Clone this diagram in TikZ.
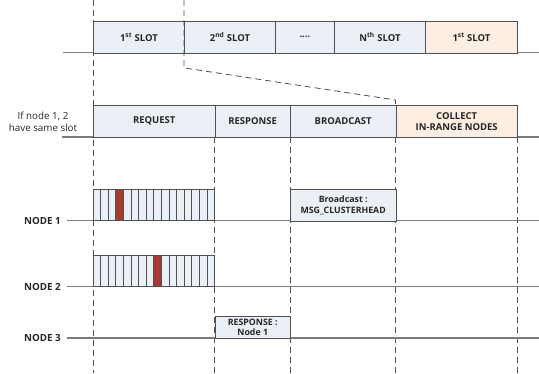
\documentclass[tikz,border=0pt]{standalone}
\usepackage{fontspec}
\setmainfont{Open Sans}
\usepackage{tikz}
\usetikzlibrary{positioning}
\usetikzlibrary{calc}

\definecolor{slotfill}{HTML}{EBF0F6}
\definecolor{collectfill}{HTML}{FDEEE3}
\definecolor{hitred}{HTML}{A63A32}
\definecolor{edgegray}{HTML}{505050}
\definecolor{linegray}{HTML}{7C7C7C}
\definecolor{inkgray}{HTML}{262626}

\tikzset{
  slot/.style={draw=edgegray, line width=0.9pt, fill=slotfill, inner sep=0pt,
    text=inkgray, align=center, font=\bfseries\fontsize{9.5}{11}\selectfont},
  stripe/.style={draw=edgegray, line width=0.8pt, fill=slotfill},
  guide/.style={draw=edgegray, line width=0.8pt, dash pattern=on 6pt off 4pt},
  timeline/.style={draw=linegray, line width=1.1pt},
  nodelbl/.style={inner sep=0pt, text=inkgray, font=\bfseries\fontsize{9.8}{11}\selectfont}
}

\begin{document}
\begin{tikzpicture}[x=1pt,y=-1pt]
  \useasboundingbox (0,0) rectangle (539,373);

  \def\fourdots{....};
  \pgfmathsetmacro{\w}{121.5/16};

 %dashed guides
  \draw[guide] (93,0) -- (93,373);
    \foreach \x in {214.5,290,395.5,517}{
        \draw[guide] (\x,137) -- (\x,373);
    }

 %frame of slots
  \draw[timeline] (63,52.5) -- (539,52.5);
    \foreach \x/\wid/\txt/\name/\col in {93/91/1\textsuperscript{st} SLOT/s1/slotfill,184/91/2\textsuperscript{nd} SLOT/s2/slotfill,275/59/\fourdots/sdots/slotfill,334/91/N\textsuperscript{th} SLOT/sn/slotfill,425/92/1\textsuperscript{st} SLOT/snext/collectfill}{
        \node[slot, fill=\col, minimum width=\wid pt, minimum height=32pt, anchor=north west] (\name) at (\x,20.5) {\txt};
    }

 %one slot in detail
  \node[align=center, inner sep=0pt, text=inkgray, font=\fontsize{9.8}{12}\selectfont] (cond) at (43,122) {If node 1, 2\\have same slot};
  \draw[timeline] (62,137) -- (539,137);
    \foreach \x/\wid/\txt/\name/\col in {93/121.5/REQUEST/req/slotfill,214.5/75.5/RESPONSE/resp/slotfill,290/105.5/BROADCAST/bcast/slotfill,395.5/121.5/COLLECT\\IN-RANGE NODES/collect/collectfill}{
        \node[slot, fill=\col, minimum width=\wid pt, minimum height=32.5pt, anchor=north west] (\name) at (\x,104.5) {\txt};
    }

  \draw[guide] (184,0) -- ($(s2.south west)+(0,14.5)$) -- ($(collect.north west)+(0,-4.5)$) -- (collect.north west);

 %node lines
    \foreach \n/\y in {1/220.5,2/286.5,3/338}{
        \node[nodelbl, anchor=east] (lbl\n) at (61,\y) {NODE \n};
        \draw[timeline] ($(lbl\n.east)+(6,0)$) -- (539,\y);
    }

 %request slots, red = chosen one
    \foreach \y/\hit in {189/4,255/9}{
        \foreach \i in {1,...,16}{
            \draw[stripe] ({93+(\i-1)*\w},\y) rectangle ({93+\i*\w},{\y+31.5});
        }
        \draw[stripe, fill=hitred] ({93+(\hit-1)*\w},\y) rectangle ({93+\hit*\w},{\y+31.5});
    }

 %messages
  \node[slot, minimum width=105.5pt, minimum height=31.5pt, anchor=north west, font=\bfseries\fontsize{8.8}{10.5}\selectfont] (msg) at (290,189) {Broadcast :\\MSG\_CLUSTERHEAD};
  \node[slot, minimum width=75.5pt, minimum height=22pt, anchor=north west, font=\bfseries\fontsize{8.8}{10.5}\selectfont] (reply) at (214.5,316) {RESPONSE :\\Node 1};

\end{tikzpicture}
\end{document}
